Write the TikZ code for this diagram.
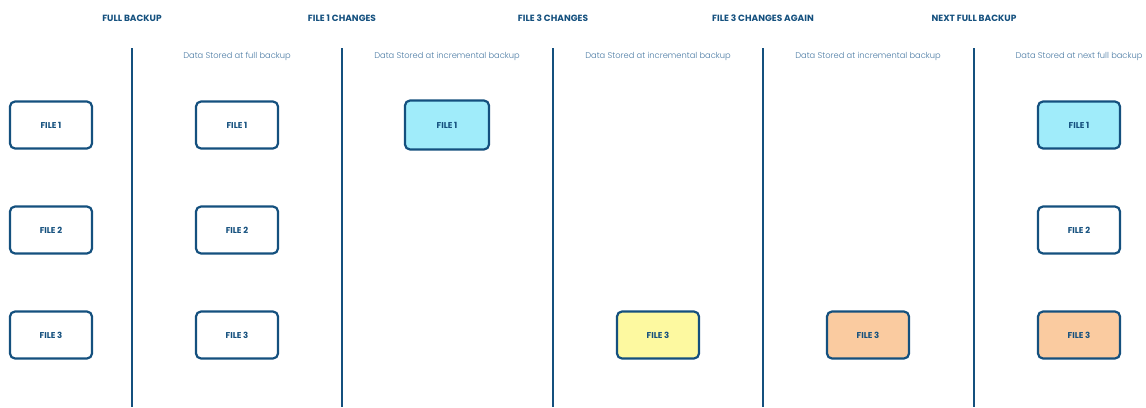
\documentclass[tikz,border=0pt]{standalone}
\usepackage{fontspec}
\setmainfont{Poppins}
\newfontfamily\lightfont{Poppins Light}
\definecolor{navy}{HTML}{14507E}
\definecolor{subblue}{HTML}{4A7AA3}
\definecolor{cyanf}{HTML}{A0ECFA}
\definecolor{yellowf}{HTML}{FDF9A0}
\definecolor{orangef}{HTML}{FACBA0}
\tikzset{
  x=1pt,y=-1pt,
  header/.style={text=navy,font=\bfseries\fontsize{9}{11}\selectfont,inner sep=0pt},
  subtitle/.style={text=subblue,font=\lightfont\fontsize{8.3}{10}\selectfont,inner sep=0pt},
  filebox/.style={draw=navy,line width=2.2pt,rounded corners=5pt,minimum width=82pt,minimum height=47pt,
    text=navy,font=\bfseries\fontsize{8.5}{10}\selectfont,fill=white},
  divider/.style={draw=navy,line width=2pt}
}
\begin{document}
\begin{tikzpicture}
\useasboundingbox (0,0) rectangle (1146,407);
% headers
\node[header] (h1) at (132,18.5) {FULL BACKUP};
\node[header] (h2) at (342,18.5) {FILE 1 CHANGES};
\node[header] (h3) at (553,18.5) {FILE 3 CHANGES};
\node[header] (h4) at (763,18.5) {FILE 3 CHANGES AGAIN};
\node[header] (h5) at (974,18.5) {NEXT FULL BACKUP};
% dividers
\foreach \x/\n in {132/a,342/b,553/c,763/d,974/e}{
  \coordinate (top\n) at (\x,48);
  \coordinate (bot\n) at (\x,407);
  \draw[divider] (top\n) -- (bot\n);
}
% subtitles
\node[subtitle] (s1) at (237,56) {Data Stored at full backup};
\node[subtitle] (s2) at (447,56) {Data Stored at incremental backup};
\node[subtitle] (s3) at (658,56) {Data Stored at incremental backup};
\node[subtitle] (s4) at (868,56) {Data Stored at incremental backup};
\node[subtitle] (s5) at (1079,56) {Data Stored at next full backup};
% boxes
\node[filebox] (a1) at (51,125) {FILE 1};
\node[filebox] (a2) at (51,230) {FILE 2};
\node[filebox] (a3) at (51,335) {FILE 3};
\node[filebox] (b1) at (237,125) {FILE 1};
\node[filebox] (b2) at (237,230) {FILE 2};
\node[filebox] (b3) at (237,335) {FILE 3};
\node[filebox,fill=cyanf,minimum width=84pt,minimum height=49pt] (c1) at (447,125) {FILE 1};
\node[filebox,fill=yellowf] (d3) at (658,335) {FILE 3};
\node[filebox,fill=orangef] (e3) at (868,335) {FILE 3};
\node[filebox,fill=cyanf] (f1) at (1079,125) {FILE 1};
\node[filebox] (f2) at (1079,230) {FILE 2};
\node[filebox,fill=orangef] (f3) at (1079,335) {FILE 3};
\end{tikzpicture}
\end{document}
